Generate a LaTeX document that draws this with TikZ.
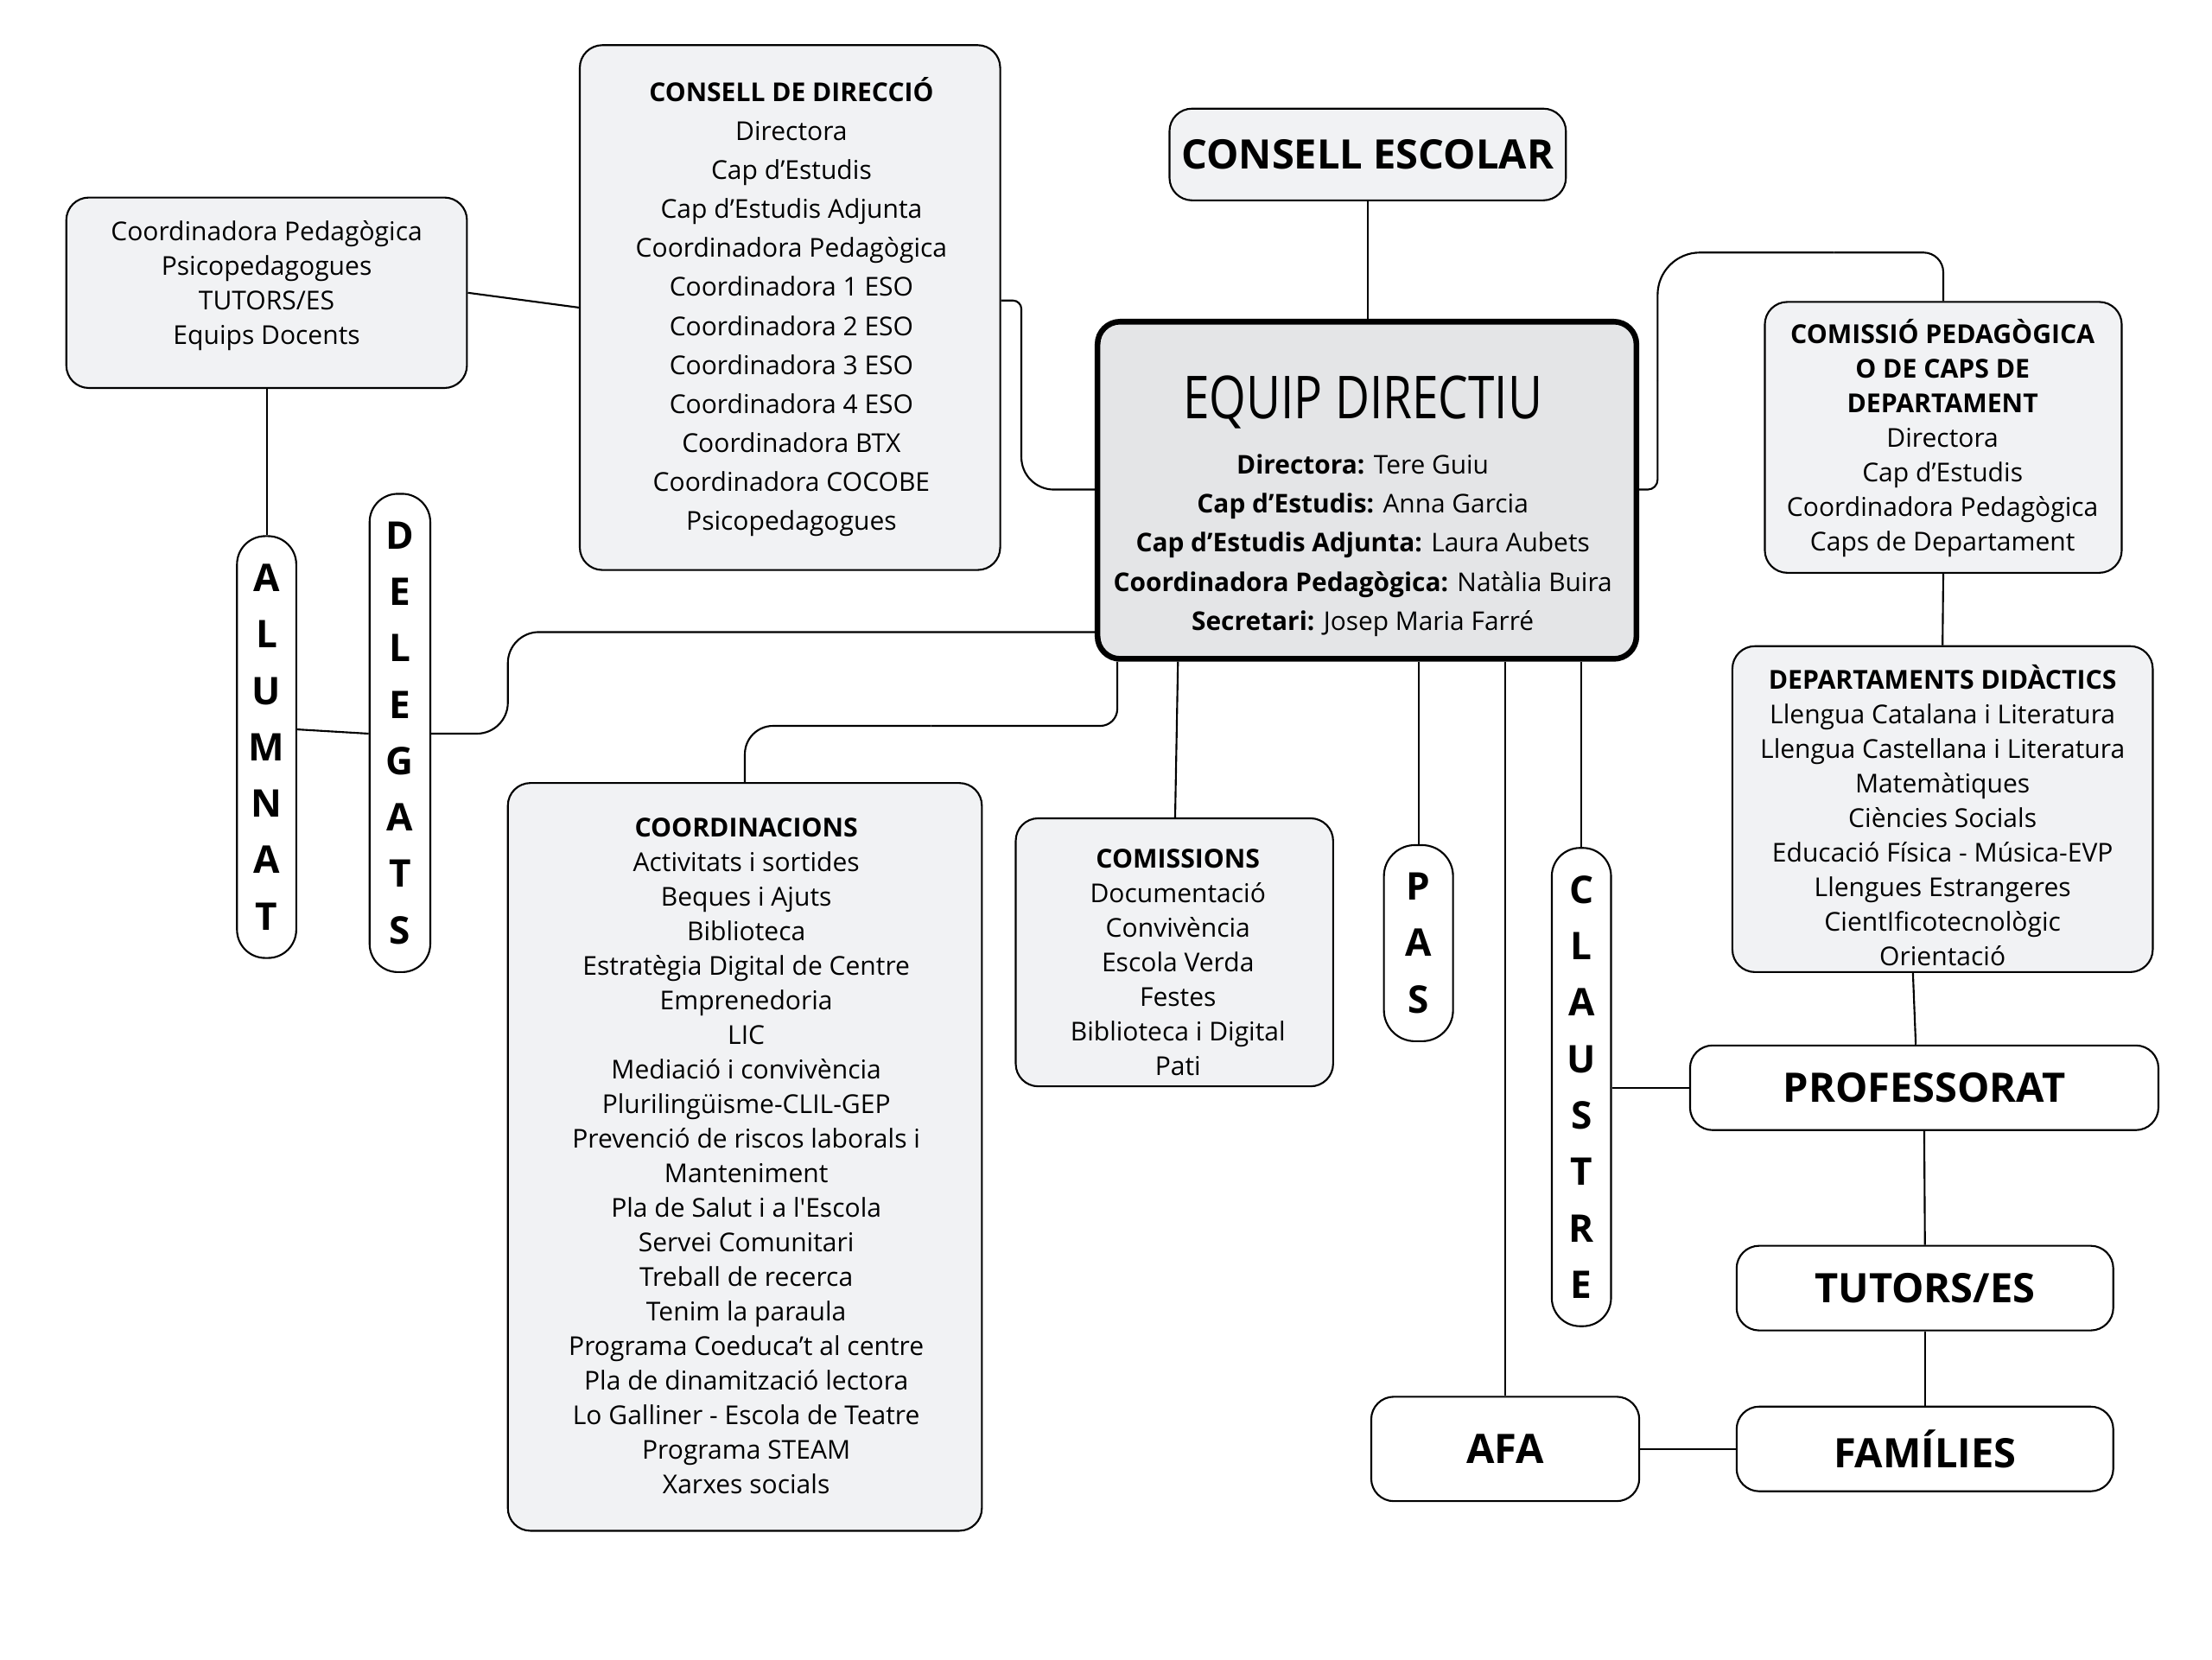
\documentclass[tikz,border=0pt]{standalone}
\usepackage{graphicx}
\usepackage{fontspec}
\setmainfont{Open Sans}
\usetikzlibrary{calc}
\definecolor{boxfill}{HTML}{F1F2F4}
\definecolor{edfill}{HTML}{E4E5E7}
\newcommand{\hdr}[1]{{\fontsize{18.5}{24.5}\selectfont\bfseries #1}}
\begin{document}
\begin{tikzpicture}[x=1pt,y=-1pt,
  box/.style={draw=black, line width=1.3pt, fill=boxfill, rounded corners=16pt, inner sep=0pt},
  wbox/.style={draw=black, line width=1.3pt, fill=white, rounded corners=16pt, inner sep=0pt},
  pill/.style={draw=black, line width=1.3pt, fill=white, rounded corners=20pt, inner sep=0pt},
  txt/.style={align=center, inner sep=0pt, font=\fontsize{18.4}{24.5}\selectfont},
  big/.style={font=\fontsize{28.8}{28.8}\selectfont\bfseries},
  vert/.style={align=center, font=\fontsize{27}{40}\selectfont\bfseries},
  conn/.style={draw=black, line width=1.3pt},
]
\useasboundingbox[fill=white] (0,0) rectangle (1568,1176);

% boxes
\node[box, big, minimum width=281pt, minimum height=65pt] (ce) at (969.5,109.5) {CONSELL ESCOLAR};
\node[draw=black, line width=4pt, fill=edfill, rounded corners=16pt, minimum width=382pt, minimum height=239pt] (ed) at (969,347.5) {};
\node[box, minimum width=298pt, minimum height=372pt] (cd) at (560,218) {};
\node[box, minimum width=284pt, minimum height=135pt] (lb) at (189,207.5) {};
\node[pill, vert, minimum width=42pt, minimum height=299pt] (alu) at (189,529.5) {A\\L\\U\\M\\N\\A\\T};
\node[pill, vert, minimum width=43pt, minimum height=339pt] (del) at (283.5,519.5) {D\\E\\L\\E\\G\\A\\T\\S};
\node[box, minimum width=253pt, minimum height=192pt] (cp) at (1377.5,310) {};
\node[box, minimum width=298pt, minimum height=231pt] (dd) at (1377,573.5) {};
\node[box, minimum width=336pt, minimum height=530pt] (co) at (528,820) {};
\node[box, minimum width=225pt, minimum height=190pt] (cm) at (832.5,675) {};
\node[pill, vert, rounded corners=22pt, minimum width=49pt, minimum height=139pt] (pas) at (1005.5,668.5) {P\\A\\S};
\node[pill, vert, minimum width=42pt, minimum height=339pt] (cl) at (1121,770.5) {C\\L\\A\\U\\S\\T\\R\\E};
\node[wbox, big, minimum width=332pt, minimum height=60pt] (pr) at (1364,771) {PROFESSORAT};
\node[wbox, big, minimum width=267pt, minimum height=60pt] (tu) at (1364.5,913) {TUTORS/ES};
\node[wbox, big, minimum width=267pt, minimum height=60pt] (fa) at (1364.5,1027) {FAMÍLIES};
\node[wbox, big, minimum width=190pt, minimum height=74pt] (afa) at (1067,1027) {AFA};

% texts
\node[inner sep=0pt] (edt) at (966,285) {\scalebox{0.8}[1]{\fontsize{42}{42}\selectfont EQUIP DIRECTIU}};
\node[txt, font=\fontsize{18.3}{27.7}\selectfont] (edn) at (966,386.5) {\textbf{Directora:} Tere Guiu\\\textbf{Cap d’Estudis:} Anna Garcia\\\textbf{Cap d’Estudis Adjunta:} Laura Aubets\\\textbf{Coordinadora Pedagògica:} Natàlia Buira\\\textbf{Secretari:} Josep Maria Farré};
\node[txt, font=\fontsize{18.4}{27.6}\selectfont] (cdt) at (561,217.5) {{\fontsize{18.4}{27.6}\selectfont\bfseries CONSELL DE DIRECCIÓ}\\Directora\\Cap d’Estudis\\Cap d’Estudis Adjunta\\Coordinadora Pedagògica\\Coordinadora 1 ESO\\Coordinadora 2 ESO\\Coordinadora 3 ESO\\Coordinadora 4 ESO\\Coordinadora BTX\\Coordinadora COCOBE\\Psicopedagogues};
\node[txt] (lbt) at (189,202.5) {Coordinadora Pedagògica\\Psicopedagogues\\TUTORS/ES\\Equips Docents};
\node[txt] (cpt) at (1377,310.5) {\hdr{COMISSIÓ PEDAGÒGICA}\\\hdr{O DE CAPS DE}\\\hdr{DEPARTAMENT}\\Directora\\Cap d’Estudis\\Coordinadora Pedagògica\\Caps de Departament};
\node[txt] (ddt) at (1377,578) {\hdr{DEPARTAMENTS DIDÀCTICS}\\Llengua Catalana i Literatura\\Llengua Castellana i Literatura\\Matemàtiques\\Ciències Socials\\Educació Física - Música-EVP\\Llengues Estrangeres\\CientIficotecnològic\\Orientació};
\node[txt] (cot) at (529,819.3) {\hdr{COORDINACIONS}\\Activitats i sortides\\Beques i Ajuts\\Biblioteca\\Estratègia Digital de Centre\\Emprenedoria\\LIC\\Mediació i convivència\\Plurilingüisme-CLIL-GEP\\Prevenció de riscos laborals i\\Manteniment\\Pla de Salut i a l\textquotesingle Escola\\Servei Comunitari\\Treball de recerca\\Tenim la paraula\\Programa Coeduca’t al centre\\Pla de dinamització lectora\\Lo Galliner - Escola de Teatre\\Programa STEAM\\Xarxes socials};
\node[txt] (cmt) at (835,682) {\hdr{COMISSIONS}\\Documentació\\Convivència\\Escola Verda\\Festes\\Biblioteca i Digital\\Pati};

% connectors
\draw[conn] (ce.south) -- (ed.north -| ce.south);
\draw[conn] (lb.east) -- (cd.west |- 0,218);
\draw[conn] (lb.south) -- (alu.north);
\draw[conn] (alu.east |- 0,517) -- (del.west |- 0,520);
\draw[conn, rounded corners=22pt] (del.east |- 0,520) -- (360,520) -- (360,448) -- (ed.west |- 0,448);
\coordinate (cdm) at (724,280);
\draw[conn, rounded corners=6pt] (cd.east |- 0,213) -- (724,213) -- (cdm);
\draw[conn, rounded corners=23pt] (cdm) -- (724,347) -- (ed.west |- 0,347);
\coordinate (cpa) at (1175,270);
\coordinate (cpb) at (1300,179);
\draw[conn, rounded corners=7pt] (ed.east |- 0,347) -- (1175,347) -- (cpa);
\draw[conn, rounded corners=30pt] (cpa) -- (1175,179) -- (cpb);
\draw[conn, rounded corners=14pt] (cpb) -- (cp.north |- 0,179) -- (cp.north);
\coordinate (coa) at (660,514.5);
\draw[conn, rounded corners=12pt] (ed.south -| 792,0) -- (792,514.5) -- (coa);
\draw[conn, rounded corners=20pt] (coa) -- (co.north |- 0,514.5) -- (co.north);
\draw[conn] (ed.south -| 835,0) -- (cm.north -| 833,0);
\draw[conn] (ed.south -| pas.north) -- (pas.north);
\draw[conn] (ed.south -| afa.north) -- (afa.north);
\draw[conn] (ed.south -| cl.north) -- (cl.north);
\draw[conn] (cp.south) -- (dd.north);
\draw[conn] (dd.south -| 1356,0) -- (pr.north -| 1358,0);
\draw[conn] (pr.south) -- (tu.north);
\draw[conn] (tu.south) -- (fa.north);
\draw[conn] (afa.east) -- (fa.west);
\draw[conn] (cl.east |- pr.west) -- (pr.west);
\end{tikzpicture}
\end{document}
